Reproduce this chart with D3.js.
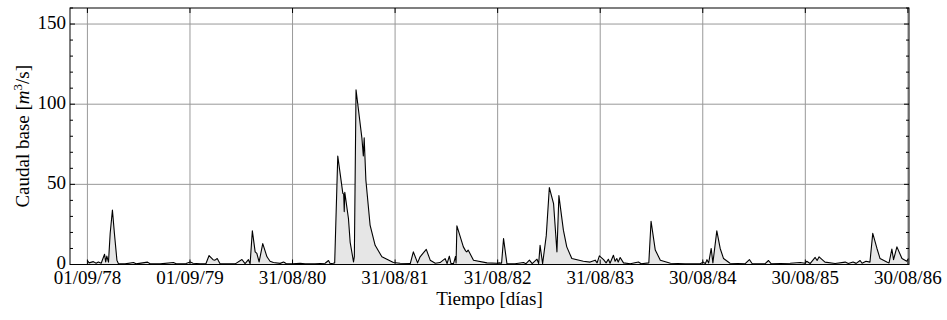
<!DOCTYPE html>
<meta charset="utf-8">
<style>
body { margin: 0; background: #fff; }
svg { font-family: "Liberation Serif", "Times New Roman", serif; }
.grid line { stroke: #999; stroke-width: 1px; }
.area { fill: #e6e6e6; stroke: none; }
.line { fill: none; stroke: #000; stroke-width: 1.1px; stroke-linejoin: round; }
.frame { fill: none; stroke: #000; stroke-width: 1px; }
.tick-label { font-size: 19px; fill: #000; }
</style>
<body>
<svg width="947" height="320"></svg>
<script src="https://cdn.jsdelivr.net/npm/d3@7"></script>
<script>
// days counted from 01/09/78
var days = [
  0, 6, 21, 31, 39, 49, 61, 65, 69, 75, 81, 89, 96, 105, 110, 134, 164, 173, 214, 223, 259, 306, 316, 351, 366, 376, 401,
  422, 433, 447, 454, 462, 472, 526, 550, 561, 573, 579, 587, 597, 603, 611, 624, 639, 650, 662, 686, 698, 707, 729,
  757, 775, 810, 846, 858, 864, 875, 880, 891, 909, 912, 914, 916, 929, 935, 947, 950, 956, 977, 982, 985, 991, 1006, 1024, 1048, 1089,
  1113, 1149, 1160, 1175, 1184, 1206, 1220, 1238, 1255, 1273, 1280, 1288, 1294, 1303, 1310, 1312, 1315, 1338, 1346, 1350, 1355, 1374, 1422, 1458,
  1466, 1474, 1481, 1493, 1522, 1552, 1561, 1573, 1583, 1600, 1606, 1611, 1620, 1633, 1644, 1659, 1671, 1678, 1694, 1706, 1724, 1765, 1789, 1807, 1814, 1822,
  1837, 1846, 1854, 1860, 1872, 1878, 1884, 1889, 1896, 1908, 1932, 1961, 1971, 1998, 2006, 2021, 2039, 2075, 2127, 2181,
  2192, 2199, 2205, 2211, 2220, 2226, 2240, 2252, 2264, 2287, 2341, 2356, 2366, 2412, 2424, 2433, 2501, 2537, 2554,
  2560, 2572, 2590, 2597, 2604, 2625, 2661, 2697, 2708, 2725, 2736, 2750, 2757, 2771, 2785, 2795, 2810, 2821, 2845, 2853, 2863, 2869, 2881, 2899, 2916, 2922
];
var caudal = [
  2.5, 1.0, 1.8, 0.8, 1.6, 0.8, 6.4, 1.6, 5.2, 1.5, 19.5, 34, 19.5, 2.7, 0.6, 0.4, 1.2, 0.4, 1.5, 0.5, 0.4, 1.2, 0.4, 0.6, 1.5, 0.8, 0.5,
  0.6, 5.6, 3.0, 2.7, 3.7, 0.5, 0.4, 3.1, 0.5, 3.0, 0.5, 21, 7.9, 6.9, 1.6, 13, 4.8, 2.0, 1.2, 0.7, 1.5, 0.6, 0.5,
  0.8, 0.4, 0.5, 0.8, 2.5, 0.5, 0.8, 1.0, 67.7, 44.4, 44, 33, 45, 28.7, 14, 1.6, 5, 109, 78.7, 67.7, 79, 52.7, 24.6, 12, 4.8, 1.25,
  0.8, 0.6, 7.9, 1.0, 4.8, 9.4, 2.7, 0.8, 1.2, 3.7, 0.6, 5.2, 0.6, 0.6, 5, 1, 24.1, 11, 8.5, 7.9, 9, 2.7, 1.0, 0.8,
  1.0, 0.8, 16.2, 0.5, 0.5, 1.2, 0.5, 2.7, 0.5, 3.3, 0.6, 12, 0.5, 18, 48, 38, 7.9, 43, 21.4, 11, 3.7, 2.0, 1.5, 2.7, 1.0, 5.4,
  3.0, 1.0, 3.3, 0.8, 5.8, 2.0, 3.7, 1.5, 4.4, 1.0, 0.5, 1.6, 0.5, 1.0, 27, 9, 2.7, 0.8, 0.5, 0.5,
  1.5, 0.5, 3, 1, 10, 1, 21, 10, 3.7, 0.8, 0.5, 3.1, 0.5, 0.5, 2.5, 0.5, 0.8, 1.2, 0.8,
  2.0, 0.6, 4.4, 2.5, 4.8, 1.5, 0.6, 1.5, 0.6, 1.5, 0.7, 2.5, 0.8, 2.0, 1.5, 19.4, 10, 3.7, 1.5, 1.0, 9.6, 3, 11, 3.7, 2.0, 3.7
];
var xTickDays = [0, 365, 730, 1095, 1460, 1825, 2190, 2555, 2920];
var xTickLabels = ["01/09/78", "01/09/79", "31/08/80", "31/08/81", "31/08/82", "31/08/83", "30/08/84", "30/08/85", "30/08/86"];
var yTicks = [0, 50, 100, 150];
var yMinorTicks = d3.range(0, 161, 10);

var svg = d3.select("svg"),
    m = {left: 70, right: 909, top: 8, bottom: 264.5};

var x = d3.scaleLinear().domain([-62, 2924]).range([m.left, m.right]),
    y = d3.scaleLinear().domain([0, 160]).range([m.bottom, m.top]);

var data = days.map(function(d, i) { return {day: d, q: caudal[i]}; });

// grid
var grid = svg.append("g").attr("class", "grid");
grid.selectAll(".v").data(xTickDays).enter().append("line")
    .attr("x1", function(d) { return x(d); }).attr("x2", function(d) { return x(d); })
    .attr("y1", m.top).attr("y2", m.bottom);
grid.selectAll(".h").data(yTicks.slice(1)).enter().append("line")
    .attr("x1", m.left).attr("x2", m.right)
    .attr("y1", function(d) { return y(d); }).attr("y2", function(d) { return y(d); });

svg.append("path").datum(data).attr("class", "area")
    .attr("d", d3.area().x(function(d) { return x(d.day); }).y0(y(0)).y1(function(d) { return y(d.q); }));
svg.append("path").datum(data).attr("class", "line")
    .attr("d", d3.line().x(function(d) { return x(d.day); }).y(function(d) { return y(d.q); }));

svg.append("rect").attr("class", "frame")
    .attr("x", m.left).attr("y", m.top).attr("width", m.right - m.left).attr("height", m.bottom - m.top);

// tick marks inside the frame
var ticks = svg.append("g").attr("stroke", "#000").attr("stroke-width", 1);
yMinorTicks.forEach(function(v) {
  var len = v % 50 === 0 ? 5 : 3;
  ticks.append("line").attr("x1", m.left).attr("x2", m.left + len).attr("y1", y(v)).attr("y2", y(v));
  ticks.append("line").attr("x1", m.right).attr("x2", m.right - len).attr("y1", y(v)).attr("y2", y(v));
});
xTickDays.forEach(function(v) {
  ticks.append("line").attr("x1", x(v)).attr("x2", x(v)).attr("y1", m.bottom).attr("y2", m.bottom - 5);
  ticks.append("line").attr("x1", x(v)).attr("x2", x(v)).attr("y1", m.top).attr("y2", m.top + 5);
});

// labels
svg.selectAll(".xl").data(xTickDays).enter().append("text")
    .attr("class", "tick-label")
    .attr("x", function(d) { return x(d); })
    .attr("y", 284)
    .attr("text-anchor", "middle")
    .text(function(d, i) { return xTickLabels[i]; });

svg.selectAll(".yl").data(yTicks).enter().append("text")
    .attr("class", "tick-label")
    .attr("x", 66)
    .attr("y", function(d) { return y(d) - 2; })
    .attr("dy", "0.35em")
    .attr("text-anchor", "end")
    .text(function(d) { return d; });

svg.append("text")
    .attr("class", "tick-label")
    .attr("x", (m.left + m.right) / 2)
    .attr("y", 305)
    .attr("text-anchor", "middle")
    .text("Tiempo [días]");

var yl = svg.append("text")
    .attr("class", "tick-label")
    .attr("transform", "translate(29," + ((m.top + m.bottom) / 2) + ") rotate(-90)")
    .attr("text-anchor", "middle");
yl.append("tspan").text("Caudal base [");
yl.append("tspan").style("font-style", "italic").text("m");
yl.append("tspan").attr("dy", -7).style("font-size", "13px").text("3");
yl.append("tspan").attr("dy", 7).text("/s]");
</script>
</body>
